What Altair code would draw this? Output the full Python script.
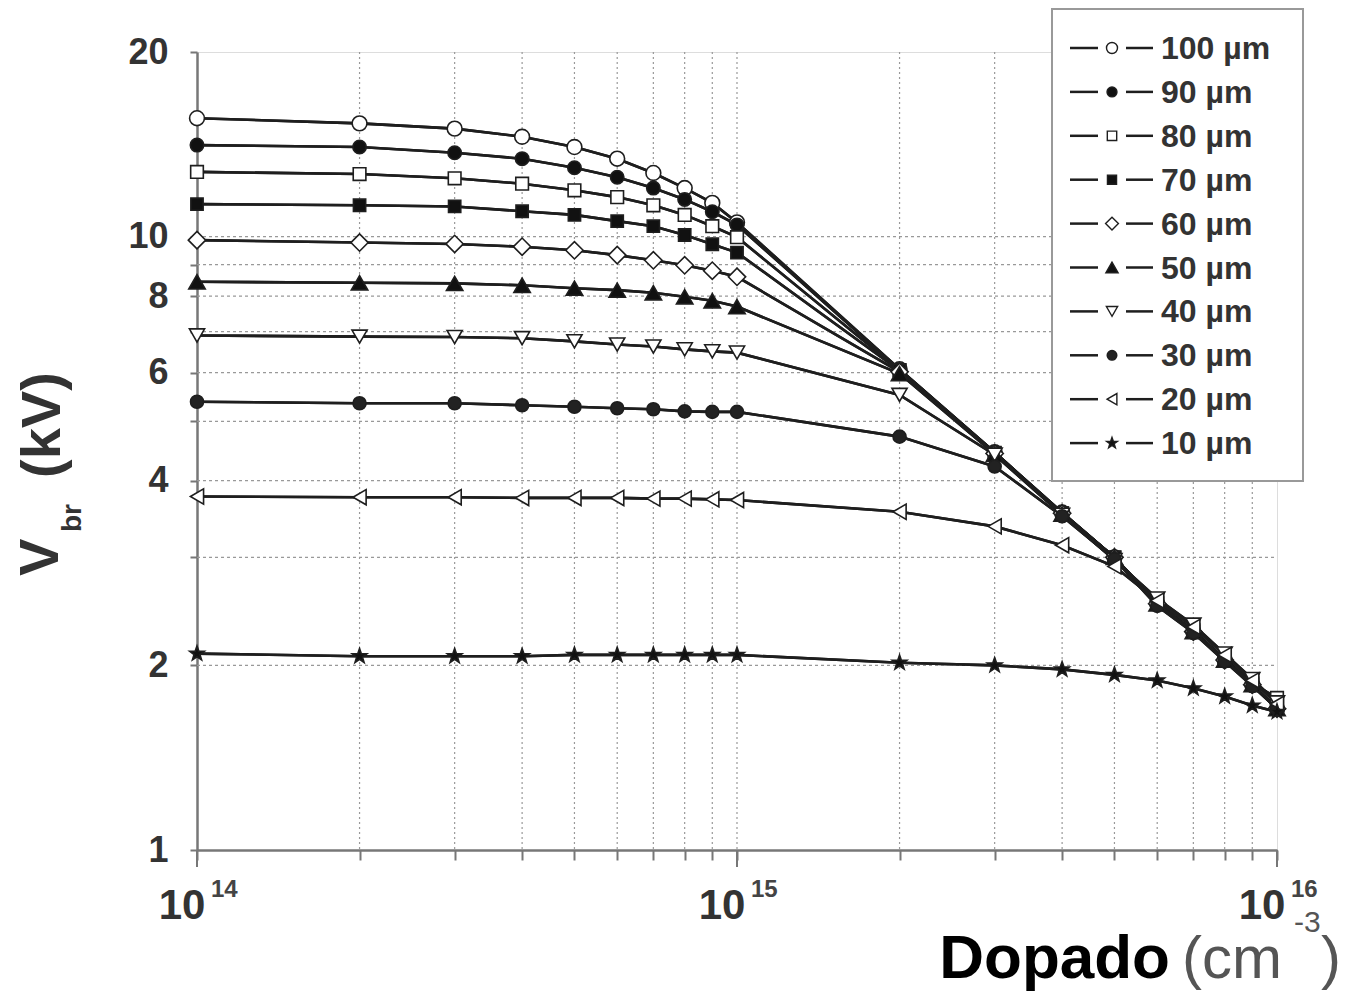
import altair as alt
import pandas as pd

# ---------------- data ----------------
doping = [1e14, 2e14, 3e14, 4e14, 5e14, 6e14, 7e14, 8e14, 9e14, 1e15,
          2e15, 3e15, 4e15, 5e15, 6e15, 7e15, 8e15, 9e15, 1e16]
series = ["100 µm", "90 µm", "80 µm", "70 µm", "60 µm",
          "50 µm", "40 µm", "30 µm", "20 µm", "10 µm"]
v100 = [15.6, 15.3, 15.0, 14.55, 14.0, 13.4, 12.7, 12.0, 11.35, 10.55,
        6.08, 4.45, 3.55, 3.00, 2.52, 2.27, 2.04, 1.86, 1.70]
v90 = [14.1, 14.0, 13.7, 13.4, 12.95, 12.5, 12.0, 11.5, 10.98, 10.45,
       6.07, 4.45, 3.55, 3.00, 2.52, 2.27, 2.04, 1.86, 1.70]
v80 = [12.75, 12.65, 12.45, 12.2, 11.9, 11.6, 11.25, 10.85, 10.4, 9.98,
       6.06, 4.44, 3.54, 3.00, 2.53, 2.28, 2.05, 1.87, 1.77]
v70 = [11.3, 11.25, 11.2, 11.0, 10.85, 10.6, 10.4, 10.06, 9.72, 9.42,
       6.05, 4.44, 3.54, 3.00, 2.52, 2.27, 2.04, 1.86, 1.70]
v60 = [9.87, 9.78, 9.73, 9.63, 9.5, 9.33, 9.15, 8.98, 8.8, 8.6,
       6.02, 4.43, 3.54, 3.00, 2.52, 2.27, 2.04, 1.86, 1.70]
v50 = [8.44, 8.41, 8.39, 8.33, 8.24, 8.18, 8.1, 7.98, 7.86, 7.69,
       5.98, 4.42, 3.53, 3.00, 2.52, 2.27, 2.04, 1.86, 1.70]
v40 = [6.9, 6.87, 6.86, 6.83, 6.75, 6.67, 6.62, 6.55, 6.5, 6.47,
       5.52, 4.41, 3.52, 2.97, 2.57, 2.33, 2.09, 1.90, 1.74]
v30 = [5.38, 5.35, 5.35, 5.31, 5.28, 5.25, 5.23, 5.19, 5.18, 5.18,
       4.72, 4.22, 3.50, 2.98, 2.50, 2.26, 2.03, 1.85, 1.70]
v20 = [3.77, 3.76, 3.76, 3.75, 3.75, 3.75, 3.74, 3.74, 3.73, 3.72,
       3.56, 3.37, 3.14, 2.90, 2.55, 2.31, 2.08, 1.89, 1.73]
v10 = [2.09, 2.07, 2.07, 2.07, 2.08, 2.08, 2.08, 2.08, 2.08, 2.08,
       2.02, 2.00, 1.97, 1.93, 1.89, 1.835, 1.78, 1.72, 1.68]
values = [v100, v90, v80, v70, v60, v50, v40, v30, v20, v10]

x_ticks = [1e14, 2e14, 3e14, 4e14, 5e14, 6e14, 7e14, 8e14, 9e14, 1e15,
           2e15, 3e15, 4e15, 5e15, 6e15, 7e15, 8e15, 9e15, 1e16]
x_grid = [2e14, 3e14, 4e14, 5e14, 6e14, 7e14, 8e14, 9e14, 1e15,
          2e15, 3e15, 4e15, 5e15, 6e15, 7e15, 8e15, 9e15]
x_major = [1e14, 1e15, 1e16]
x_major_base = ["10", "10", "10"]
x_major_exp = ["14", "15", "16"]
y_ticks = [1, 2, 3, 4, 5, 6, 7, 8, 9, 10, 20]
y_grid = [2, 3, 4, 5, 6, 7, 8, 9, 10]

# ---------------- styles ----------------
STAR = ("M0,-1L0.235,-0.324L0.951,-0.309L0.380,0.124L0.588,0.809L0,0.4"
        "L-0.588,0.809L-0.380,0.124L-0.951,-0.309L-0.235,-0.324Z")
shapes = ["circle", "circle", "square", "square", "diamond",
          "triangle-up", "triangle-down", "circle", "triangle-left", STAR]
fills = ["white", "#111", "white", "#111", "white",
         "#111", "white", "#222", "white", "#111"]
sizes = [220, 180, 160, 150, 300, 270, 230, 170, 230, 240]

FONT = "Liberation Sans"
W, H = 1080, 798
DARK = "#1e1e1e"
AX = "#777"

x_scale = alt.Scale(type="log", domain=[1e14, 1e16], nice=False)
y_scale = alt.Scale(type="log", domain=[1, 20], nice=False)

x_axis = alt.Axis(
    values=x_ticks, labels=False, tickSize=10, tickColor=AX, tickWidth=2,
    domainColor=AX, domainWidth=2.5, grid=False, title=None)
y_axis = alt.Axis(
    values=y_ticks, tickSize=7, tickColor=AX, tickWidth=2,
    domainColor=AX, domainWidth=2.5, grid=False, title=None,
    labelExpr="(datum.value==3||datum.value==5||datum.value==7||datum.value==9) ? '' : format(datum.value, 'd')",
    labelFont=FONT, labelFontSize=36, labelFontWeight="bold", labelColor="#333",
    labelPadding=22, labelFlush=False, labelOverlap=False, labelBaseline="middle")


def X():
    return alt.X("N:Q", scale=x_scale, axis=x_axis)


def Y():
    return alt.Y("V:Q", scale=y_scale, axis=y_axis)


rows = []
for s, vals in zip(series, values):
    for n, v in zip(doping, vals):
        rows.append({"series": s, "N": n, "V": v})
df = pd.DataFrame(rows)

layers = []

# curves (first layer carries the axes)
lines = alt.Chart(df).mark_line(color=DARK, strokeWidth=2.6).encode(
    x=X(), y=Y(), detail="series:N")

# grid lines
gx = alt.Chart(pd.DataFrame({"N": x_grid})).mark_rule(
    color="#999", strokeDash=[2, 3], strokeWidth=1.2
).encode(x=X(), y=alt.value(0), y2=alt.value(H))
gy = alt.Chart(pd.DataFrame({"V": y_grid})).mark_rule(
    color="#999", strokeDash=[3, 3], strokeWidth=1.2
).encode(y=Y(), x=alt.value(0), x2=alt.value(W))
layers += [lines, gx, gy, lines]

for i, s in enumerate(series):
    sub = df[df["series"] == s]
    layers.append(
        alt.Chart(sub).mark_point(
            shape=shapes[i], filled=True, fill=fills[i], stroke=DARK,
            strokeWidth=1.6, size=sizes[i], opacity=1
        ).encode(x=X(), y=Y())
    )

# major ticks and x tick labels (10 with superscript exponent)
maj = pd.DataFrame({"N": x_major, "base": x_major_base, "exp": x_major_exp})
layers.append(alt.Chart(maj).mark_rule(color=AX, strokeWidth=2).encode(
    x=X(), y=alt.value(H), y2=alt.value(H + 17)))
layers.append(alt.Chart(maj).mark_text(
    font=FONT, fontSize=42, fontWeight="bold", color="#333", align="center",
    baseline="alphabetic", dx=-15
).encode(x=X(), y=alt.value(H + 69), text="base:N"))
layers.append(alt.Chart(maj).mark_text(
    font=FONT, fontSize=24, fontWeight="bold", color="#444", align="left",
    baseline="alphabetic", dx=14
).encode(x=X(), y=alt.value(H + 47), text="exp:N"))

# legend
one = pd.DataFrame({"t": [""]})
layers.append(alt.Chart(one).mark_rect(fill="white", stroke="#999", strokeWidth=2).encode(
    x=alt.value(855), x2=alt.value(1106), y=alt.value(-43), y2=alt.value(429)))
for i, s in enumerate(series):
    yy = -4 + i * 43.9
    base = alt.Chart(pd.DataFrame({"t": [s]}))
    layers.append(base.mark_rule(color=DARK, strokeWidth=2.5).encode(
        x=alt.value(873), x2=alt.value(901), y=alt.value(yy)))
    layers.append(base.mark_rule(color=DARK, strokeWidth=2.5).encode(
        x=alt.value(929), x2=alt.value(956), y=alt.value(yy)))
    layers.append(base.mark_point(
        shape=shapes[i], filled=True, fill=fills[i], stroke=DARK, strokeWidth=1.4,
        size=sizes[i] * 0.55, opacity=1
    ).encode(x=alt.value(915), y=alt.value(yy)))
    layers.append(base.mark_text(
        font=FONT, fontSize=32, fontWeight="bold", color="#333", align="left",
        baseline="middle"
    ).encode(x=alt.value(964), y=alt.value(yy + 1), text="t:N"))


def txt(t, x, y, size, weight="bold", color="#222", angle=0, align="left"):
    mk = dict(font=FONT, fontSize=size, fontWeight=weight, color=color,
              align=align, baseline="alphabetic")
    if angle:
        mk["angle"] = angle
    return alt.Chart(pd.DataFrame({"t": [t]})).mark_text(**mk).encode(
        x=alt.value(x), y=alt.value(y), text="t:N")


# y title: V_br (kV)
layers.append(txt("V", -139, 524, 56, angle=270, color="#333"))
layers.append(txt("br", -116, 480, 28, angle=270, color="#333"))
layers.append(txt("(kV)", -137, 426, 56, angle=270, color="#333"))

# x title: Dopado (cm^-3)
layers.append(txt("Dopado", 973, 926, 62, color="#000", align="right"))
layers.append(txt("(cm", 985, 926, 60, weight="normal", color="#555"))
layers.append(txt("-3", 1097, 880, 30, weight="normal", color="#555"))
layers.append(txt(")", 1124, 926, 60, weight="normal", color="#555"))

chart = alt.layer(*layers).properties(
    width=W, height=H,
    autosize=alt.AutoSizeParams(type="none"),
    padding={"left": 189, "top": 44, "right": 68, "bottom": 142},
).configure_view(stroke=AX, strokeWidth=2.5).configure(background="white")

chart.save("out.html", embed_options={"renderer": "svg", "actions": False})
